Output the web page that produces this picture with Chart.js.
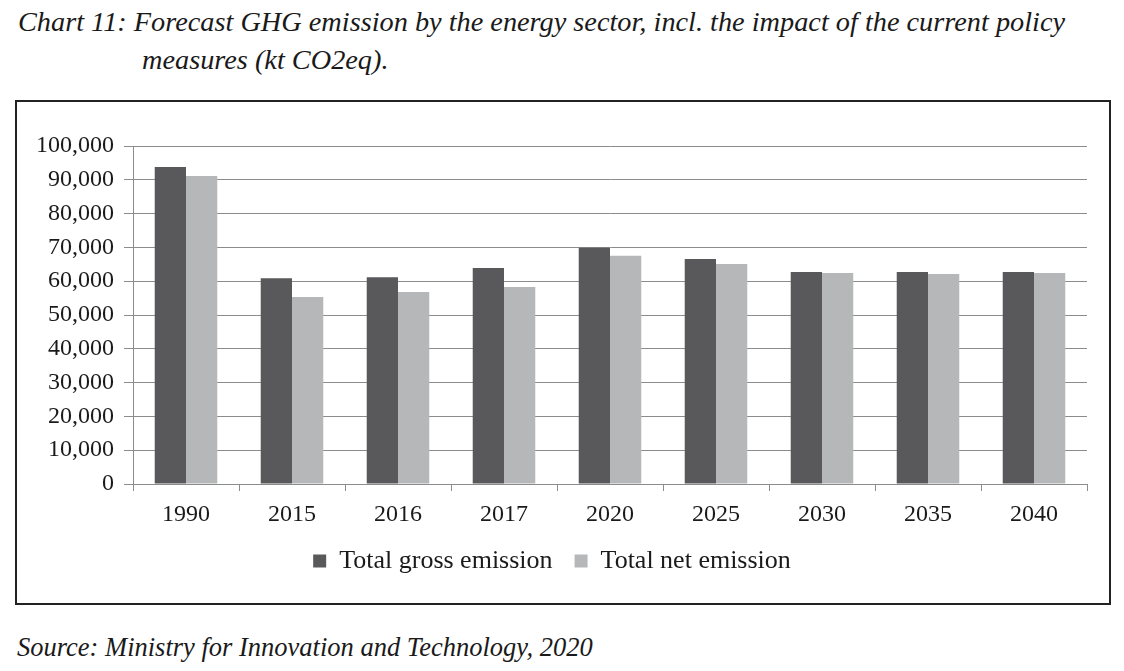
<!DOCTYPE html>
<html>
<head>
<meta charset="utf-8">
<script src="https://cdn.jsdelivr.net/npm/chart.js@4.4.1/dist/chart.umd.min.js"></script>
<style>
  html, body { margin: 0; padding: 0; background: #fff; }
  body { width: 1124px; height: 671px; position: relative; overflow: hidden; font-family: "Liberation Serif", serif; color: #1a1a1a; }
  .title { position: absolute; font-style: italic; font-size: 28.3px; line-height: 38px; white-space: nowrap; }
  #t1 { left: 18px; top: 3px; }
  #t2 { left: 142px; top: 41px; }
  #box { position: absolute; left: 15px; top: 100px; width: 1092px; height: 501px; border: 2px solid #222; }
  #source { position: absolute; left: 17px; top: 632px; font-style: italic; font-size: 26.5px; white-space: nowrap; }
</style>
</head>
<body>
<div class="title" id="t1">Chart 11: Forecast GHG emission by the energy sector, incl. the impact of the current policy</div>
<div class="title" id="t2">measures (kt CO2eq).</div>
<div id="box"><canvas id="ghgChart" width="1092" height="501"></canvas></div>
<div id="source">Source: Ministry for Innovation and Technology, 2020</div>
<script>
const years = ["1990", "2015", "2016", "2017", "2020", "2025", "2030", "2035", "2040"];
const grossEmission = [93800, 60900, 61200, 63900, 69900, 66600, 62700, 62700, 62700];
const netEmission = [91100, 55300, 56800, 58300, 67500, 65100, 62400, 62100, 62400];

const axisFont = { family: "Liberation Serif", size: 24 };
const legendFont = { family: "Liberation Serif", size: 26 };

function drawChart() {
  const ctx = document.getElementById("ghgChart").getContext("2d");

  new Chart(ctx, {
    type: "bar",
    data: {
      labels: years,
      datasets: [
        {
          label: "Total gross emission",
          data: grossEmission,
          backgroundColor: "#59595b",
          categoryPercentage: 0.59,
          barPercentage: 1.0,
        },
        {
          label: "Total net emission",
          data: netEmission,
          backgroundColor: "#b6b7b9",
          categoryPercentage: 0.59,
          barPercentage: 1.0,
        },
      ],
    },
    options: {
      responsive: false,
      animation: false,
      layout: { padding: { top: 44, right: 22, left: 0, bottom: 19 } },
      plugins: {
        tooltip: { enabled: false },
        legend: {
          position: "bottom",
          labels: {
            color: "#1a1a1a",
            font: legendFont,
            boxWidth: 13,
            boxHeight: 13,
            padding: 22,
          },
        },
      },
      scales: {
        x: {
          afterFit: (scale) => { scale.height = 42; },
          grid: { offset: true, drawOnChartArea: false, color: "#8c8c8c", tickLength: 7 },
          border: { color: "#8c8c8c" },
          ticks: { color: "#1a1a1a", font: axisFont, padding: 9 },
        },
        y: {
          min: 0,
          max: 100000,
          afterFit: (scale) => { scale.width = 116; },
          grid: { color: "#8c8c8c", tickLength: 9 },
          border: { color: "#8c8c8c" },
          ticks: {
            stepSize: 10000,
            color: "#1a1a1a",
            font: axisFont,
            padding: 10,
            callback: (v) => v.toLocaleString("en-US"),
          },
        },
      },
    },
  });
}

drawChart();
</script>
</body>
</html>
